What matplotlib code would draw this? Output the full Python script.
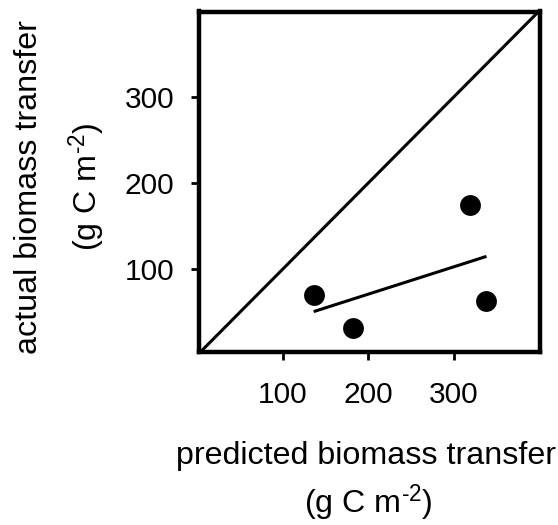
import numpy as np
import matplotlib
matplotlib.use("Agg")
import matplotlib.pyplot as plt

plt.rcParams['font.family'] = ['Liberation Sans', 'DejaVu Sans']
plt.rcParams['mathtext.fontset'] = 'custom'
plt.rcParams['mathtext.rm'] = 'Liberation Sans'
plt.rcParams['mathtext.it'] = 'Liberation Sans'
plt.rcParams['mathtext.default'] = 'rm'

# data
predicted = [136, 182, 319, 338]
actual = [70, 32, 174, 63]
xticks = [100, 200, 300]
yticks = [100, 200, 300]
xlabel1 = "predicted biomass transfer"
ylabel1 = "actual biomass transfer"
unit_label = "(g C m$^{\u20102}$)"

fig = plt.figure(figsize=(5.58, 5.25), dpi=100)
ax = fig.add_axes([199/558, 1 - 351.7/525, (539.5-199)/558, (351.7-11.5)/525])

ax.set_xlim(2, 400)
ax.set_ylim(4, 399)

# 1:1 line
ax.plot([0, 400], [0, 400], color='black', lw=2.2, solid_capstyle='butt')

# regression line
coef = np.polyfit(predicted, actual, 1)
xs = np.array([min(predicted), max(predicted)])
ax.plot(xs, np.polyval(coef, xs), color='black', lw=2.2, solid_capstyle='butt')

ax.scatter(predicted, actual, s=225, color='black', zorder=3, linewidths=0)

ax.set_xticks(xticks)
ax.set_yticks(yticks)
ax.tick_params(direction='out', length=6, width=2, labelsize=21.5, pad=12)
ax.tick_params(axis='x', pad=15)
for sp in ax.spines.values():
    sp.set_linewidth(3.2)

fig.text(366/558, 1 - 456/525, xlabel1, ha='center', va='center', fontsize=23.2)
fig.text(368/558, 1 - 503/525, unit_label, ha='center', va='center', fontsize=23.2)
fig.text(29/558, 1 - 187/525, ylabel1, ha='center', va='center', fontsize=23.2, rotation=90)
fig.text(87/558, 1 - 187/525, unit_label, ha='center', va='center', fontsize=23.2, rotation=90)

fig.savefig("out.png", dpi=100)
